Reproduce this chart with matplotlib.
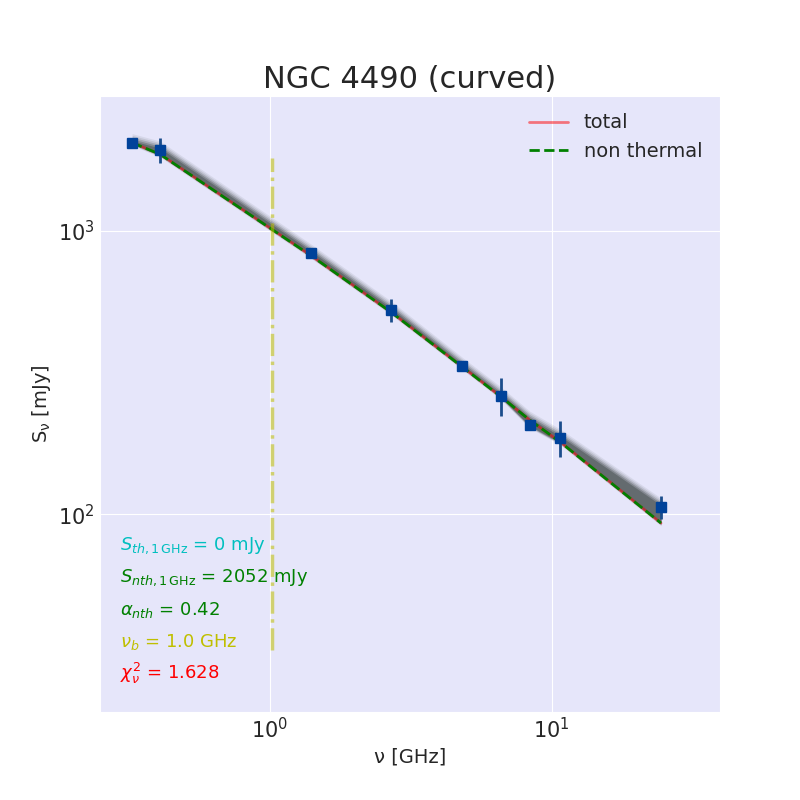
import matplotlib.pyplot as plt
import numpy as np
import seaborn as sns

# observed spectrum
freq = [0.325, 0.408, 1.4, 2.7, 4.8, 6.6, 8.35, 10.7, 24.4]  # GHz
flux = [2055, 1935, 837, 525, 334, 262, 206, 186, 106]  # mJy
flux_err = [60, 190, 25, 49, 10, 40, 6, 27, 10]

# best-fit model read at the same frequencies
model_total = [2051, 1868, 819, 516, 332, 260, 215, 180, 93]
model_nth = [2051, 1868, 819, 516, 332, 260, 215, 180, 93]

nu_break = 1.02

labels = [
    (r"$S_{th,1\,\mathrm{GHz}}$ = 0 mJy", "c"),
    (r"$S_{nth,1\,\mathrm{GHz}}$ = 2052 mJy", "g"),
    (r"$\alpha_{nth}$ = 0.42", "g"),
    (r"$\nu_b$ = 1.0 GHz", "y"),
    (r"$\chi^2_\nu$ = 1.628", "r"),
]

sns.set_style("darkgrid")
plt.rcParams["axes.facecolor"] = "lavender"

fig, ax = plt.subplots(figsize=(8, 8), dpi=100)

# spread of the posterior samples, drawn as soft layered bands
f = np.array(freq)
d = np.array(flux, dtype=float)
m = np.array(model_total, dtype=float)
upper = np.maximum(d, m)
lower = np.minimum(d, m)
for pad, a in [(0.075, 0.1), (0.06, 0.15), (0.045, 0.25), (0.03, 0.4), (0.015, 0.6)]:
    ax.fill_between(f, lower / (1 + pad * 0.3), upper * (1 + pad),
                    color="#50585a", alpha=a, lw=0)

ax.plot(freq, model_total, color="r", alpha=0.5, lw=2, label="total")
ax.plot(freq, model_nth, "g--", lw=2, label="non thermal")

ax.axvline(nu_break, ymin=0.1, ymax=0.9, color="y", alpha=0.55, ls="-.", lw=2.5)

ax.errorbar(freq, flux, yerr=flux_err, fmt="s", color="#00429a",
            ecolor="#1b4d8c", ms=7.5, elinewidth=2, zorder=5)

ax.set_xscale("log")
ax.set_yscale("log")
ax.set_xlim(0.25, 39.5)
ax.set_ylim(20, 3000)
ax.grid(True, which="major", color="white")
ax.grid(False, which="minor")
ax.tick_params(labelsize=15, length=0)
ax.set_xlabel("ν [GHz]", fontsize=14)
ax.set_ylabel(r"S$_\mathrm{\nu}$ [mJy]", fontsize=14)
ax.set_title("NGC 4490 (curved)", fontsize=22)
ax.legend(loc="upper right", fontsize=14, frameon=False)

for i, (txt, col) in enumerate(labels):
    ax.text(0.032, 0.27 - i * 0.052, txt, color=col, fontsize=13,
            transform=ax.transAxes, va="center")

fig.savefig("out.png")
